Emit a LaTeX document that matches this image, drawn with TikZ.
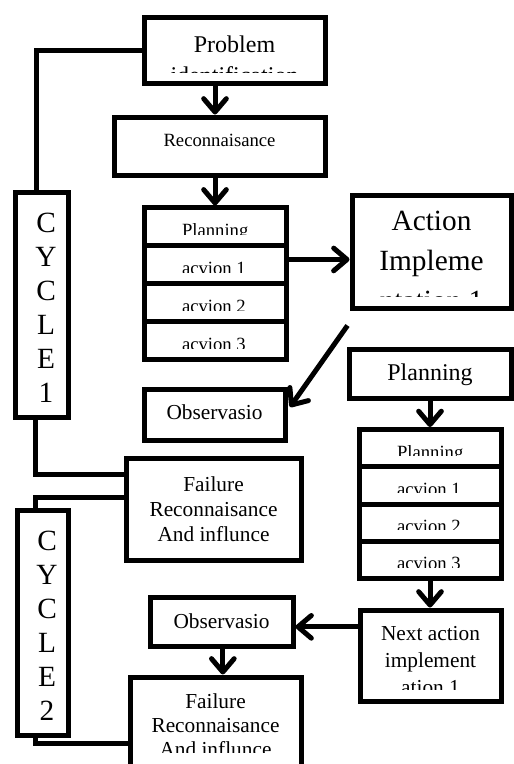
\documentclass[tikz,border=0pt]{standalone}
\usepackage{fontspec}
\setmainfont{Liberation Serif}
\usetikzlibrary{arrows.meta}
\tikzset{>={Straight Barb[length=10pt,width=17pt,line cap=round,line join=round]}}
\tikzset{
  frame/.style={draw, line width=3.75pt, fill=white, inner sep=0pt},
  boxsize/.style 2 args={minimum width=#1*0.75pt, minimum height=#2*0.75pt},
  % font size, line skip, first baseline below top, clip above bottom, text
  boxtext/.style n args={5}{path picture={
      \clip (path picture bounding box.north west) rectangle
            ([yshift=#4*0.75pt]path picture bounding box.south east);
      \node[anchor=base, inner sep=0pt, font=\fontsize{#1}{#2}\selectfont]
            at ([yshift=-#3*0.75pt]path picture bounding box.north)
            {\begin{tabular}[t]{@{}c@{}}#5\end{tabular}};}},
  rowtext/.style={path picture={
      \clip (path picture bounding box.north west) rectangle
            ([yshift=11.5*0.75pt]path picture bounding box.south east);
      \node[anchor=base, inner sep=0pt, font=\fontsize{14}{17}\selectfont]
            at ([xshift=-33*0.75pt,yshift=-28.5*0.75pt]path picture bounding box.north)
            {\makebox[0pt][l]{#1}};}},
  cycletext/.style={path picture={
      \node[anchor=base, inner sep=0pt, font=\fontsize{22}{25.5}\selectfont]
            at ([xshift=3.4pt,yshift=-40*0.75pt]path picture bounding box.north)
            {\begin{tabular}[t]{@{}c@{}}#1\end{tabular}};}},
  link/.style={line width=3.75pt},
  flow/.style={link, ->}
}

\begin{document}
\begin{tikzpicture}[x=0.75pt, y=-0.75pt]

  \useasboundingbox (0,0) rectangle (514,764);
  \clip (0,0) rectangle (514,764);

  %% cycle 1
  \node[frame, boxsize={181}{66}, boxtext={18}{23.5}{35}{11}{Problem\\identification}] (prob) at (234.5,50) {};
  \node[frame, boxsize={211}{58}, boxtext={14}{17}{29}{0}{Reconnaisance}] (recon) at (219.5,146) {};
  \node[frame, boxsize={142}{37.9}, rowtext={Planning}] (pa0) at (215,226.9) {};
  \node[frame, boxsize={142}{37.9}, rowtext={acvion 1}] (pa1) at (215,264.8) {};
  \node[frame, boxsize={142}{37.9}, rowtext={acvion 2}] (pa2) at (215,302.7) {};
  \node[frame, boxsize={142}{37.9}, rowtext={acvion 3}] (pa3) at (215,340.6) {};
  \node[frame, boxsize={159}{113}, boxtext={22}{30}{35}{12}{Action\\Impleme\\ntation 1}] (act) at (431.5,251.5) {};
  \node[frame, boxsize={141}{51}, boxtext={16}{19}{30}{0}{Observasio}] (obs1) at (214.5,414.5) {};
  \node[frame, boxsize={175}{102}, boxtext={16}{18.75}{33}{0}{Failure\\Reconnaisance\\And influnce}] (fail1) at (213.5,509) {};
  \node[frame, boxsize={53}{225}, cycletext={C\\Y\\C\\L\\E\\1}] (cyc1) at (41.5,304.5) {};

  %% cycle 2
  \node[frame, boxsize={162}{49}, boxtext={18}{22}{31}{0}{Planning}] (plan2) at (430,373.5) {};
  \node[frame, boxsize={142}{37.3}, rowtext={Planning}] (pb0) at (430,448.2) {};
  \node[frame, boxsize={142}{37.3}, rowtext={acvion 1}] (pb1) at (430,485.5) {};
  \node[frame, boxsize={142}{37.3}, rowtext={acvion 2}] (pb2) at (430,522.8) {};
  \node[frame, boxsize={142}{37.3}, rowtext={acvion 3}] (pb3) at (430,560.1) {};
  \node[frame, boxsize={141}{91}, boxtext={16}{20.25}{30}{12}{Next action\\implement\\ation 1}] (next) at (430.5,655.5) {};
  \node[frame, boxsize={143}{49}, boxtext={16}{19}{31}{0}{Observasio}] (obs2) at (221.5,621.5) {};
  \node[frame, boxsize={171}{103}, boxtext={16}{18}{31}{28}{Failure\\Reconnaisance\\And influnce}] (fail2) at (215.5,728.5) {};
  \node[frame, boxsize={51}{225}, cycletext={C\\Y\\C\\L\\E\\2}] (cyc2) at (42.5,622.5) {};

  %% loop lines
  \draw[link] (prob.west) -| ([xshift=-3.5pt]cyc1.north);
  \draw[link] ([xshift=-4.5pt]cyc1.south) |- ([yshift=26.25pt]fail1.west);
  \draw[link] ([yshift=9pt]fail1.west) -| ([xshift=-4.9pt]cyc2.north);
  \draw[link] ([xshift=-4.9pt]cyc2.south) |- ([yshift=-10.9pt]fail2.west);

  %% arrows
  \draw[flow] (prob.south -| pa0.north) -- (recon.north -| pa0.north);
  \draw[flow] (recon.south -| pa0.north) -- (pa0.north);
  \draw[flow] ([yshift=4pt]pa1.east) -- ([yshift=4pt]pa1.east -| act.west);
  \coordinate (actfoot) at ([shift={(-2,15)}]act.south west);
  \draw[flow] (actfoot) -- ([shift={(2.5,-7.5)}]obs1.east);
  \draw[flow] (plan2.south -| pb0.north) -- (pb0.north);
  \draw[flow] (pb3.south) -- (next.north -| pb3.south);
  \draw[flow] ([yshift=-4pt]obs2.east -| next.west) -- ([yshift=-4pt]obs2.east);
  \draw[flow] ([xshift=1pt]obs2.south) -- ([xshift=1pt]obs2.south |- fail2.north);

\end{tikzpicture}
\end{document}
